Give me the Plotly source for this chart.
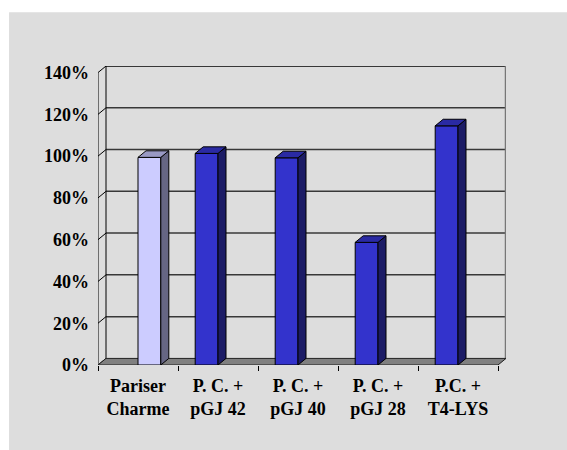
import plotly.graph_objects as go

# Relative activity, Pariser Charme control vs. transformed lines
categories = ["Pariser<br>Charme", "P. C. +<br>pGJ 42", "P. C. +<br>pGJ 40",
              "P. C. +<br>pGJ 28", "P.C. +<br>T4-LYS"]
control_values = [99.4, None, None, None, None]
construct_values = [None, 101.3, 99.2, 58.7, 114.5]
y_ticks = [0, 20, 40, 60, 80, 100, 120, 140]
y_tick_labels = [f"{v}%" for v in y_ticks]

# pseudo-3D geometry (data units)
DX, DY = 0.1, 3.15          # depth offset of the back wall
BAR_W = 0.285
X0, X1 = -0.5, len(categories) - 0.5
YMAX = y_ticks[-1]

styles = {
    "control": dict(front="#CCCCFF", side="#666684", top="#9999C4", offset=0.0),
    "construct": dict(front="#3333CC", side="#1C1C66", top="#2A2AA3", offset=-BAR_W),
}

fig = go.Figure()


def add_series(values, st):
    xs = list(range(len(categories)))
    fig.add_trace(go.Bar(
        x=xs, y=values, width=BAR_W, offset=st["offset"],
        marker=dict(color=st["front"], line=dict(color="black", width=1)),
        showlegend=False, hoverinfo="skip"))
    for c, v in zip(xs, values):
        if v is None:
            continue
        left = c + st["offset"]
        right = left + BAR_W
        side_x = [right, right + DX, right + DX, right, right]
        side_y = [0, DY, v + DY, v, 0]
        top_x = [left, right, right + DX, left + DX, left]
        top_y = [v, v, v + DY, v + DY, v]
        for px, py, col in ((side_x, side_y, st["side"]), (top_x, top_y, st["top"])):
            fig.add_trace(go.Scatter(
                x=px, y=py, mode="lines", fill="toself", fillcolor=col,
                line=dict(color="black", width=1), showlegend=False, hoverinfo="skip"))


add_series(control_values, styles["control"])
add_series(construct_values, styles["construct"])

shapes = []
# outer grey panel
shapes.append(dict(type="rect", xref="paper", yref="paper", x0=-0.218, x1=1.2, y0=-0.35, y1=1.18,
                   fillcolor="#DDDDDD", line=dict(width=0), layer="below"))


def seg(xa, ya, xb, yb, color, width):
    return dict(type="line", xref="x", yref="y", x0=xa, y0=ya, x1=xb, y1=yb,
                line=dict(color=color, width=width), layer="below")


# back-wall gridlines and left-wall diagonals
for v in y_ticks:
    if 0 < v < YMAX:
        shapes.append(seg(X0 + DX, v + DY, X1 + DX, v + DY, "#383838", 1.5))
    shapes.append(seg(X0, v, X0 + DX, v + DY, "black", 1))
shapes.append(seg(X0 + DX, YMAX + DY, X1 + DX, YMAX + DY, "black", 1.5))
shapes.append(seg(X0 + DX, DY, X0 + DX, YMAX + DY, "black", 1))
shapes.append(seg(X0, 0, X0, YMAX, "black", 1))
shapes.append(seg(X1 + DX, DY, X1 + DX, YMAX + DY, "#777777", 2.5))
# floor
shapes.append(dict(type="path", xref="x", yref="y",
                   path=f"M {X0} 0 L {X1} 0 L {X1 + DX} {DY} L {X0 + DX} {DY} Z",
                   fillcolor="#808080", line=dict(color="#202020", width=1), layer="below"))

font = dict(family="Liberation Serif", size=18, color="black", weight="bold")

fig.update_layout(
    width=567, height=450, autosize=False,
    margin=dict(l=98, r=61, t=66, b=85, pad=0),
    paper_bgcolor="white", plot_bgcolor="#DDDDDD",
    barmode="overlay", showlegend=False,
    shapes=shapes,
    xaxis=dict(range=[X0, X1 + DX], tickmode="array", tickvals=list(range(len(categories))),
               ticktext=categories, ticks="", tickfont=font, showgrid=False, zeroline=False,
               showline=False, ticklabelstandoff=8,
               minor=dict(tickmode="array", tickvals=[X0 + k for k in range(len(categories) + 1)],
                          ticks="outside", ticklen=5, tickcolor="black", tickwidth=1, showgrid=False)),
    yaxis=dict(range=[0, YMAX + DY], tickmode="array", tickvals=y_ticks, ticktext=y_tick_labels,
               ticks="", tickfont=font, showgrid=False, zeroline=False, showline=False,
               ticklabelstandoff=8),
)

fig.write_html("out.html")
